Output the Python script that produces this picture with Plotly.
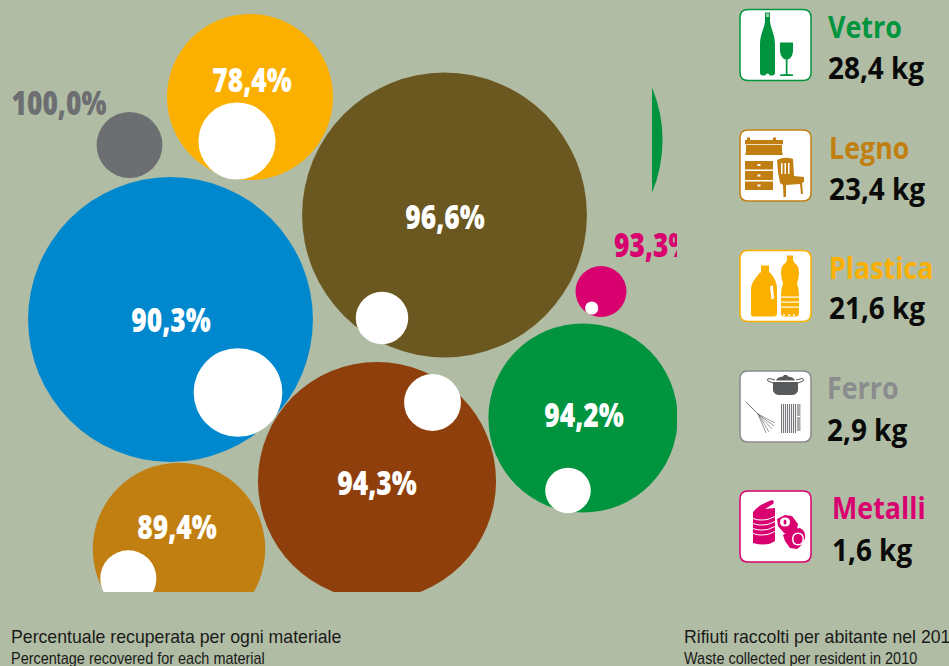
import re
import plotly.graph_objects as go

# Share of each material that is recovered, with waste per resident (kg)
bubble_labels = ["100,0%", "78,4%", "96,6%", "90,3%", "93,3%", "94,2%", "94,3%", "89,4%"]
recovered_pct = [100.0, 78.4, 96.6, 90.3, 93.3, 94.2, 94.3, 89.4]
waste_kg = [2.9, 21.6, 66.3, 66.3, 1.6, 28.4, 45.8, 23.4]

legend_names = ["Vetro", "Legno", "Plastica", "Ferro", "Metalli"]
legend_amounts = ["28,4 kg", "23,4 kg", "21,6 kg", "2,9 kg", "1,6 kg"]

caption_left = ["Percentuale recuperata per ogni materiale", "Percentage recovered for each material"]
caption_right = ["Rifiuti raccolti per abitante nel 2010", "Waste collected per resident in 2010"]

# Bubble packing and styling
bubble_colors = ["#6d6e71", "#fbb000", "#6b5720", "#0088ce", "#d9006f", "#00943f", "#8f3f0c", "#c17f12"]
bubble_cx = [129.5, 250, 444.5, 170.5, 601, 583, 377, 179]
bubble_cy = [145, 97, 215, 319.5, 291.5, 418, 481, 549]
hole_cx = [129.5, 237, 382, 238, 591.7, 568, 432.5, 128.3]
hole_cy = [145, 141, 318, 392.5, 308, 490.5, 402.5, 578.4]
label_cx = [59, 252, 445, 171, 614, 584, 377, 177]
label_cy = [107, 84, 221, 324, 249, 419, 487, 531]
label_colors = ["#6d6e71", "white", "white", "white", "#d9006f", "white", "white", "white"]
label_anchor = ["middle center"] * 4 + ["middle right"] + ["middle center"] * 3

# Fragment of one more bubble, seen through a narrow window
fragment_kg = [60.8]
fragment_cx = [526]
fragment_cy = [140]

BG = "#b0bda4"
HEAVY = "Open Sans"
PLAIN = "Liberation Sans"
SIZE_BUBBLE, SIZE_NAME, SIZE_AMOUNT, SIZE_CAP1, SIZE_CAP2 = 33, 30.5, 31, 17.7, 17


def radius(kg):
    return 4 + 17 * kg ** 0.5


outer_r = [radius(k) for k in waste_kg]
hole_r = [r * (1 - p / 100) ** 0.5 for r, p in zip(outer_r, recovered_pct)]

fig = go.Figure()

fig.add_trace(go.Scatter(
    x=bubble_cx, y=bubble_cy, mode="markers", hoverinfo="skip",
    marker=dict(size=[2 * r for r in outer_r], color=bubble_colors, line_width=0, opacity=1),
))
fig.add_trace(go.Scatter(
    x=hole_cx, y=hole_cy, mode="markers", hoverinfo="skip",
    marker=dict(size=[2 * r for r in hole_r], color="white", line_width=0, opacity=1),
))
fig.add_trace(go.Scatter(
    x=label_cx, y=label_cy, mode="text", text=bubble_labels, hoverinfo="skip",
    textposition=label_anchor,
    textfont=dict(family=HEAVY, size=SIZE_BUBBLE, color=label_colors, weight=800),
))
fig.add_trace(go.Scatter(
    x=fragment_cx, y=fragment_cy, xaxis="x2", yaxis="y2", mode="markers", hoverinfo="skip",
    marker=dict(size=[2 * radius(k) for k in fragment_kg], color="#00943f", line_width=0, opacity=1),
))

# Legend column: coloured name above the amount
legend_colors = ["#00943f", "#c17f12", "#fbb000", "#8a8c8e", "#d9006f"]
legend_x = [828, 829, 829, 827, 832]
name_y = [30, 151, 271, 391, 511]
amount_y = [71, 192, 311, 433, 553]
fig.add_trace(go.Scatter(
    x=legend_x, y=name_y, xaxis="x3", yaxis="y3", mode="text", text=legend_names,
    textposition="middle right", hoverinfo="skip",
    textfont=dict(family=HEAVY, size=SIZE_NAME, color=legend_colors, weight="bold"),
))
fig.add_trace(go.Scatter(
    x=legend_x, y=amount_y, xaxis="x3", yaxis="y3", mode="text", text=legend_amounts,
    textposition="middle right", hoverinfo="skip",
    textfont=dict(family=HEAVY, size=SIZE_AMOUNT, color="#0a0a0a", weight="bold"),
))

# Captions
fig.add_trace(go.Scatter(
    x=[11, 684], y=[639, 639], xaxis="x3", yaxis="y3", mode="text",
    text=[caption_left[0], caption_right[0]], textposition="middle right", hoverinfo="skip",
    textfont=dict(family=PLAIN, size=SIZE_CAP1, color="#1a1a1a"),
))
fig.add_trace(go.Scatter(
    x=[11, 684], y=[660, 660], xaxis="x3", yaxis="y3", mode="text",
    text=[caption_left[1], caption_right[1]], textposition="middle right", hoverinfo="skip",
    textfont=dict(family=PLAIN, size=SIZE_CAP2, color="#1a1a1a"),
))

# Pictograms: local 71x71 paths shifted onto the canvas
FRAME = "M8,0 L63,0 Q71,0 71,8 L71,63 Q71,71 63,71 L8,71 Q0,71 0,63 L0,8 Q0,0 8,0 Z"


def shift(path, ox, oy):
    return re.sub(
        r"(-?[\d.]+),(-?[\d.]+)",
        lambda m: f"{float(m.group(1)) + ox:.2f},{float(m.group(2)) + oy:.2f}",
        path,
    )


shapes = []


def draw(path, ox, oy, fill=None, line=None, width=0):
    shapes.append(dict(
        type="path", path=shift(path, ox, oy), xref="x3", yref="y3", layer="above",
        fillcolor=fill if fill else "rgba(0,0,0,0)",
        line=dict(color=line if line else "rgba(0,0,0,0)", width=width),
    ))


def rect(x0, y0, x1, y1):
    return f"M{x0},{y0} L{x1},{y0} L{x1},{y1} L{x0},{y1} Z"


def oval(cx, cy, rx, ry):
    return (f"M{cx - rx},{cy} Q{cx - rx},{cy - ry} {cx},{cy - ry} Q{cx + rx},{cy - ry} {cx + rx},{cy} "
            f"Q{cx + rx},{cy + ry} {cx},{cy + ry} Q{cx - rx},{cy + ry} {cx - rx},{cy} Z")


ICON_X = 740
icon_y = [9.5, 130, 250.5, 371, 491]
for oy, c in zip(icon_y, legend_colors):
    draw(FRAME, ICON_X, oy, fill="white", line=c, width=1.5)

# Glass
ox, oy, c = ICON_X, icon_y[0], legend_colors[0]
draw("M25,3 L30,3 L30,12 C31,20 35,25 35,35 L35,63 Q35,66 32,66 L30,66 Q27.5,62 25,66 L23,66 "
     "Q20,66 20,63 L20,35 C20,25 24,20 25,12 Z", ox, oy, fill=c)
draw(rect(26, 4, 29, 7.5), ox, oy, fill="#9fd0ae")
draw("M40,33 L53,33 L53,42 Q52,49 47.5,50 L47.5,64.5 L53,65 L53,66.5 L40,66.5 L40,65 L45.8,64.5 "
     "L45.8,50 Q41,49 40,42 Z", ox, oy, fill=c)

# Wood: crate, drawers, chair
ox, oy, c = ICON_X, icon_y[1], legend_colors[1]
draw("M5,10 L7,10 L7,7.5 L10,7.5 L10,10 L33,10 L33,7.5 L36,7.5 L36,10 L43,10 L43,14 L42,15 L42,22 "
     "L43,25 L5,25 L6,22 L6,15 L5,14 Z", ox, oy, fill=c)
draw(rect(6, 14, 42, 14.8), ox, oy, fill="white")
draw(rect(5, 31, 33, 39.5), ox, oy, fill=c)
draw(rect(5, 41, 33, 50), ox, oy, fill=c)
draw(rect(5, 51.5, 33, 60), ox, oy, fill=c)
for hy in (34, 44.5, 54.5):
    draw(rect(17.5, hy, 20.5, hy + 2), ox, oy, fill="white")
draw("M37,30 Q45,26 53,29 L54,46 L64,47 L64,52 L62,53 L63,64 L61,64 L60,54 L46,55 L46,67 L43.5,67 "
     "L43,55 L40,53 L38,42 Z", ox, oy, fill=c)
for sx in (41, 44.5, 48):
    draw(rect(sx, 33, sx + 1.5, 44), ox, oy, fill="white")

# Plastic: jug and bottle
ox, oy, c = ICON_X, icon_y[2], legend_colors[2]
draw("M21,15 L29,15 L29,22 L30,22 Q37,30 37,38 L37,63 Q37,66 34,66 L13,66 Q11,66 11,63 L11,38 "
     "Q11,32 20,22 L21,22 Z", ox, oy, fill=c)
draw("M30,36 L33,35 L34,48 L31.5,49 Z", ox, oy, fill="white")
draw("M47,5 L53,5 L53,9 L54,12 Q59,15 59,22 Q59,28 57,33 Q59,38 59,45 L59,63 Q59,66 56,66 L44,66 "
     "Q41,66 41,63 L41,45 Q41,38 43,33 Q41,28 41,22 Q41,15 46,12 L47,9 Z", ox, oy, fill=c)
for sy in (46, 51, 56):
    draw(rect(41, sy, 59, sy + 1.2), ox, oy, fill="white")
for dx in (44, 49, 54):
    draw(oval(dx, 64.5, 1, 1), ox, oy, fill="white")

# Iron: pot, rake, radiator
ox, oy, c = ICON_X, icon_y[3], "#58595b"
draw("M33,11 L58,11 L58,20 Q56,24 52,24 L39,24 Q35,24 33,20 Z", ox, oy, fill=c)
draw("M36,9.5 Q37,6 43,5.5 L44,4 L47,4 L48,5.5 Q54,6 55,9.5 Z", ox, oy, fill=c)
draw("M33,12 L28,10 Q26,8 29,7.5 L35,9", ox, oy, line=c, width=1)
draw("M58,12 L63,10 Q65,8 62,7.5 L56,9", ox, oy, line=c, width=1)
draw("M6,31 L18,43", ox, oy, line="#6d6e71", width=1)
for ex, ey in ((35, 52), (34, 55), (32, 58), (29, 61), (26, 62)):
    draw(f"M18,43 L{ex},{ey}", ox, oy, line="#6d6e71", width=0.7)
for rx in range(41, 57, 2):
    draw(rect(rx, 33, rx + 1.1, 62), ox, oy, fill="#77787b")
draw(rect(57, 33, 60.5, 60), ox, oy, fill="#a9abad")
draw(rect(57, 45, 60.5, 46), ox, oy, fill="white")

# Metal: stacked can and crushed cans
ox, oy, c = ICON_X, icon_y[4], legend_colors[4]
draw("M14,20 Q18,14 32,9 Q35,10 33,13 L25,18 L35,17 L35,50 Q27,56 13,52 L13,21 Z", ox, oy, fill=c)
for sy in (27, 32, 37, 42):
    draw(f"M13,{sy} Q24,{sy + 4} 35,{sy - 2} L35,{sy - 1} Q24,{sy + 5} 13,{sy + 1} Z", ox, oy, fill="white")
draw("M37,28 L45,24 L52,25 L58,33 L57,38 L50,43 L44,42 L38,35 Z", ox, oy, fill=c)
draw(oval(45, 31, 5, 4.5), ox, oy, fill="white")
draw(oval(45, 31, 1.5, 2.5), ox, oy, fill=c)
draw("M43,44 L52,38 L60,37 Q66,40 65,47 Q63,54 57,58 L50,57 L45,50 Z", ox, oy, fill=c)
draw(oval(58, 48, 6, 6.5), ox, oy, fill="white")
draw(oval(58, 48, 4.5, 5), ox, oy, fill=c)

hidden = dict(visible=False, fixedrange=True)
W, H = 949, 666
CLIP_X, CLIP_Y = 677, 592
fig.update_layout(
    width=W, height=H, autosize=False, showlegend=False,
    margin=dict(l=0, r=0, t=0, b=0),
    paper_bgcolor=BG, plot_bgcolor="rgba(0,0,0,0)",
    shapes=shapes,
    xaxis=dict(domain=[0, CLIP_X / W], range=[0, CLIP_X], **hidden),
    yaxis=dict(domain=[1 - CLIP_Y / H, 1], range=[CLIP_Y, 0], **hidden),
    xaxis2=dict(domain=[652 / W, CLIP_X / W], range=[652, CLIP_X], anchor="y2", **hidden),
    yaxis2=dict(domain=[1 - CLIP_Y / H, 1], range=[CLIP_Y, 0], anchor="x2", **hidden),
    xaxis3=dict(domain=[0, 1], range=[0, W], anchor="y3", **hidden),
    yaxis3=dict(domain=[0, 1], range=[H, 0], anchor="x3", **hidden),
)

# None of the installed families is condensed, so narrow the glyphs per font size
CONDENSE = f"""
var factors = {{{SIZE_BUBBLE}: 0.8, {SIZE_NAME}: 0.88, {SIZE_AMOUNT}: 0.9, {SIZE_CAP2}: 0.85}};
document.querySelectorAll('.textpoint text').forEach(function (t) {{
    var f = factors[parseFloat(t.style.fontSize)];
    if (f) {{
        t.setAttribute('lengthAdjust', 'spacingAndGlyphs');
        t.setAttribute('textLength', t.getComputedTextLength() * f);
    }}
}});
"""

fig.write_html("out.html", post_script=CONDENSE)
